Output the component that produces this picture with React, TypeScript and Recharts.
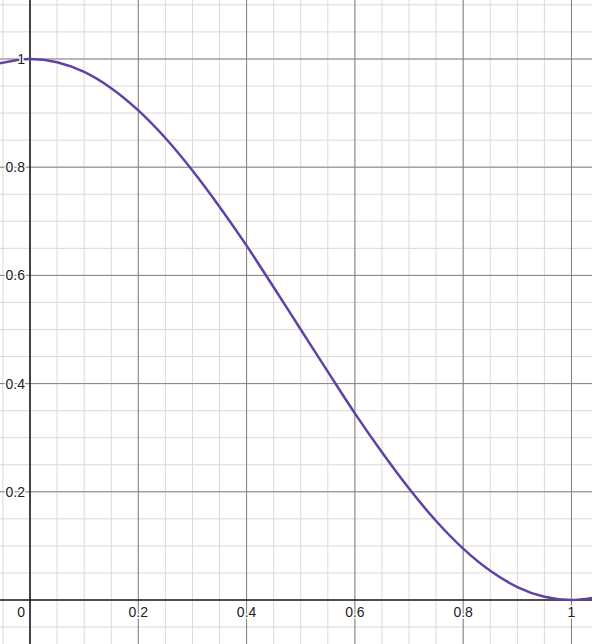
import React from "react";
import {
  LineChart,
  Line,
  XAxis,
  YAxis,
  ReferenceLine,
  ReferenceDot,
} from "recharts";

// visible window of the graph
const X_MIN = -0.0554;
const X_MAX = 1.0379;
const Y_MIN = -0.0813;
const Y_MAX = 1.109;

// curve samples
const xs = [
  -0.06, 0, 0.05, 0.1, 0.15, 0.2, 0.25, 0.3, 0.35, 0.4, 0.45, 0.5, 0.55, 0.6,
  0.65, 0.7, 0.75, 0.8, 0.85, 0.9, 0.95, 1, 1.04,
];
const ys = [
  0.991, 1, 0.994, 0.976, 0.946, 0.905, 0.854, 0.794, 0.727, 0.655, 0.578, 0.5,
  0.422, 0.345, 0.273, 0.206, 0.146, 0.095, 0.054, 0.024, 0.006, 0, 0.004,
];

const xTickLabels = ["0.2", "0.4", "0.6", "0.8", "1"];
const yTickLabels = ["0.2", "0.4", "0.6", "0.8", "1"];
const majorX = [0.2, 0.4, 0.6, 0.8, 1];
const majorY = [0.2, 0.4, 0.6, 0.8, 1];

const minorStep = 0.05;
const minorX: number[] = [];
for (let i = -1; i <= 20; i++) minorX.push(+(i * minorStep).toFixed(2));
const minorY: number[] = [];
for (let i = -1; i <= 22; i++) minorY.push(+(i * minorStep).toFixed(2));

const data = xs.map((x, i) => ({ x, y: ys[i] }));

const CURVE = "#6042a6";
const MINOR = "#d9d9d9";
const MAJOR = "#828282";
const AXIS = "#1a1a1a";
const FONT = "Liberation Sans, Arial, sans-serif";

function TickText(props: any) {
  const { viewBox, value, anchor, dx, dy } = props;
  if (!viewBox) return null;
  const cx = viewBox.x + viewBox.width / 2;
  const cy = viewBox.y + viewBox.height / 2;
  return (
    <text
      x={cx + dx}
      y={cy + dy}
      textAnchor={anchor}
      fontFamily={FONT}
      fontSize={14}
      fill="#222"
      stroke="#fff"
      strokeWidth={3}
      paintOrder="stroke"
      strokeLinejoin="round"
    >
      {value}
    </text>
  );
}

export default function App() {
  return (
    <div
      style={{
        position: "absolute",
        left: 0,
        top: 0,
        width: 592,
        height: 644,
        background: "#fff",
      }}
    >
      <LineChart
        width={592}
        height={644}
        data={data}
        margin={{ top: 0, right: 0, bottom: 0, left: 0 }}
      >
        <XAxis
          dataKey="x"
          type="number"
          domain={[X_MIN, X_MAX]}
          allowDataOverflow
          hide
        />
        <YAxis
          type="number"
          domain={[Y_MIN, Y_MAX]}
          allowDataOverflow
          hide
        />
        {minorX.map((v) => (
          <ReferenceLine key={"mx" + v} x={v} stroke={MINOR} strokeWidth={1} />
        ))}
        {minorY.map((v) => (
          <ReferenceLine key={"my" + v} y={v} stroke={MINOR} strokeWidth={1} />
        ))}
        {majorX.map((v) => (
          <ReferenceLine key={"Mx" + v} x={v} stroke={MAJOR} strokeWidth={1} />
        ))}
        {majorY.map((v) => (
          <ReferenceLine key={"My" + v} y={v} stroke={MAJOR} strokeWidth={1} />
        ))}
        <ReferenceLine x={0} stroke={AXIS} strokeWidth={1.6} />
        <ReferenceLine y={0} stroke={AXIS} strokeWidth={1.6} />
        <Line
          type="monotone"
          dataKey="y"
          stroke={CURVE}
          strokeWidth={2.5}
          dot={false}
          isAnimationActive={false}
        />
        {majorX.map((v, i) => (
          <ReferenceDot
            key={"lx" + v}
            x={v}
            y={0}
            r={1}
            fill="none"
            stroke="none"
            label={
              <TickText value={xTickLabels[i]} anchor="middle" dx={0} dy={17} />
            }
          />
        ))}
        {majorY.map((v, i) => (
          <ReferenceDot
            key={"ly" + v}
            x={0}
            y={v}
            r={1}
            fill="none"
            stroke="none"
            label={
              <TickText value={yTickLabels[i]} anchor="end" dx={-5} dy={5} />
            }
          />
        ))}
        <ReferenceDot
          x={0}
          y={0}
          r={1}
          fill="none"
          stroke="none"
          label={<TickText value="0" anchor="end" dx={-5} dy={17} />}
        />
      </LineChart>
    </div>
  );
}
